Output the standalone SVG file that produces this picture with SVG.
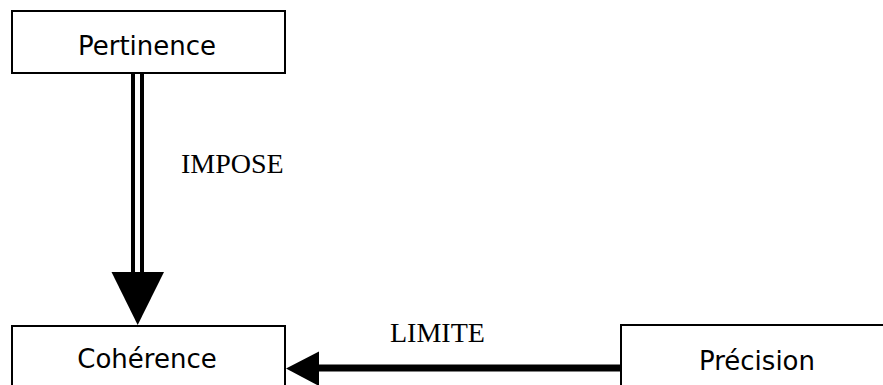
<svg xmlns="http://www.w3.org/2000/svg" width="883" height="385" viewBox="0 0 883 385">
  <style>
    .box { fill: #ffffff; stroke: #000000; stroke-width: 2; }
    .node-text { font-family: "DejaVu Sans", "Noto Sans", sans-serif; font-size: 26px; fill: #000000; text-anchor: middle; }
    .edge-label { font-family: "Liberation Serif", "Times New Roman", serif; font-size: 28px; fill: #000000; }
    .line { stroke: #000000; fill: none; }
    .head { fill: #000000; stroke: none; }
  </style>
  <rect width="883" height="385" fill="#ffffff"/>
  <g id="connectors">
    <g id="edge-impose">
      <line class="line" x1="133" y1="73" x2="133" y2="273" stroke-width="4"/>
      <line class="line" x1="142" y1="73" x2="142" y2="273" stroke-width="4"/>
      <polygon class="head" points="111.5,272 164,272 137.7,325"/>
      <text class="edge-label" x="181" y="173">IMPOSE</text>
    </g>
    <g id="edge-limite">
      <line class="line" x1="318" y1="368" x2="621" y2="368" stroke-width="7"/>
      <polygon class="head" points="286,368.5 319,351.5 319,386"/>
      <text class="edge-label" x="390" y="342">LIMITE</text>
    </g>
  </g>
  <g id="node-pertinence">
    <rect class="box" x="12" y="11" width="273" height="62"/>
    <text class="node-text" x="147" y="55">Pertinence</text>
  </g>
  <g id="node-coherence">
    <rect class="box" x="12" y="326" width="273" height="80"/>
    <text class="node-text" x="147" y="368">Cohérence</text>
  </g>
  <g id="node-precision">
    <rect class="box" x="621" y="325" width="300" height="80"/>
    <text class="node-text" x="757" y="370">Précision</text>
  </g>
</svg>
